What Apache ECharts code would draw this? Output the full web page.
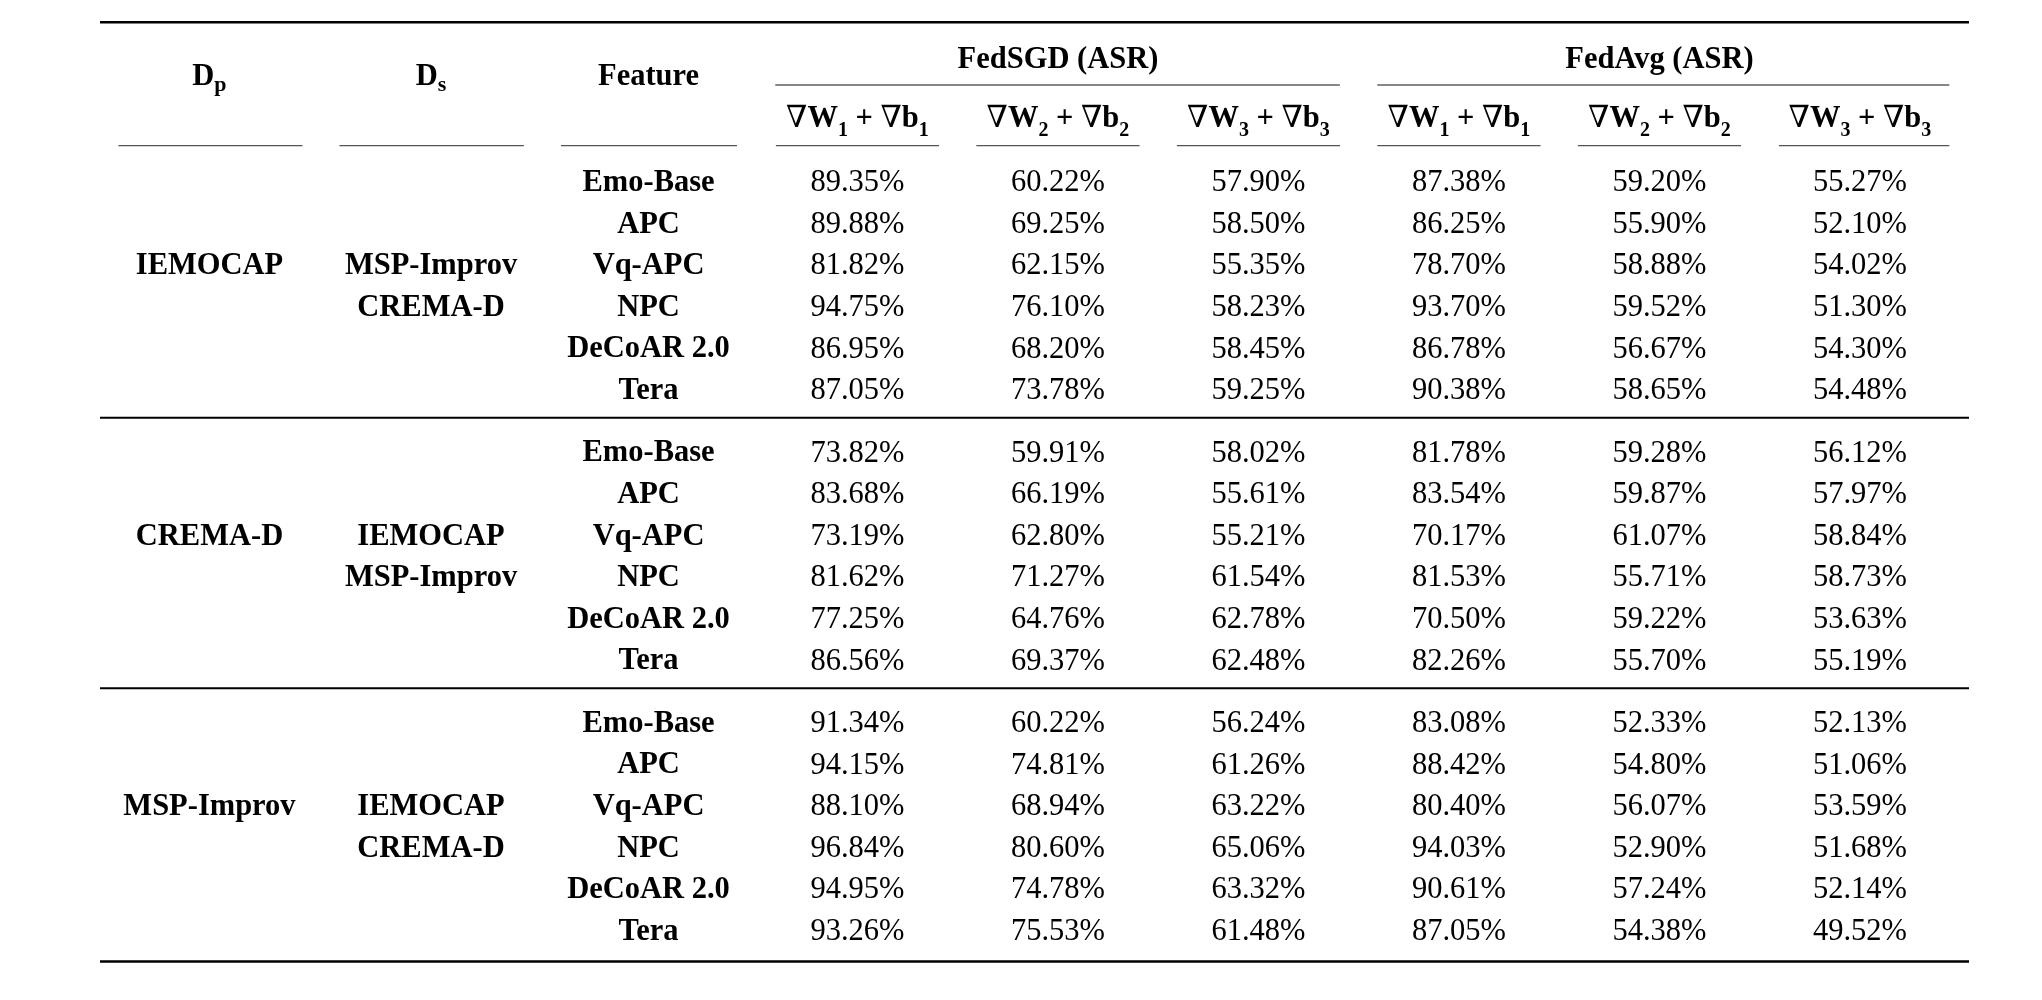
<!DOCTYPE html>
<html>
<head>
<meta charset="utf-8">
<script src="https://cdn.jsdelivr.net/npm/echarts@6/dist/echarts.min.js"></script>
<style>html,body{margin:0;padding:0;background:#fff}#chart{width:2042px;height:1000px}</style>
</head>
<body>
<div id="chart"></div>
<script>
// ---------------- DATA ----------------
const primaryDatasets = ['IEMOCAP', 'CREMA-D', 'MSP-Improv'];
const secondaryDatasets = [['MSP-Improv', 'CREMA-D'], ['IEMOCAP', 'MSP-Improv'], ['IEMOCAP', 'CREMA-D']];
const features = ['Emo-Base', 'APC', 'Vq-APC', 'NPC', 'DeCoAR 2.0', 'Tera'];
const methods = ['FedSGD (ASR)', 'FedAvg (ASR)'];
const layerIndices = ['1', '2', '3'];
const headerLabels = ['D', 'D', 'Feature'];
const headerSubs = ['p', 's', ''];

// rows: features; columns: layer 1, 2, 3
const fedSGD_IEMOCAP = [[89.35, 60.22, 57.90], [89.88, 69.25, 58.50], [81.82, 62.15, 55.35], [94.75, 76.10, 58.23], [86.95, 68.20, 58.45], [87.05, 73.78, 59.25]];
const fedAvg_IEMOCAP = [[87.38, 59.20, 55.27], [86.25, 55.90, 52.10], [78.70, 58.88, 54.02], [93.70, 59.52, 51.30], [86.78, 56.67, 54.30], [90.38, 58.65, 54.48]];
const fedSGD_CREMAD = [[73.82, 59.91, 58.02], [83.68, 66.19, 55.61], [73.19, 62.80, 55.21], [81.62, 71.27, 61.54], [77.25, 64.76, 62.78], [86.56, 69.37, 62.48]];
const fedAvg_CREMAD = [[81.78, 59.28, 56.12], [83.54, 59.87, 57.97], [70.17, 61.07, 58.84], [81.53, 55.71, 58.73], [70.50, 59.22, 53.63], [82.26, 55.70, 55.19]];
const fedSGD_MSP = [[91.34, 60.22, 56.24], [94.15, 74.81, 61.26], [88.10, 68.94, 63.22], [96.84, 80.60, 65.06], [94.95, 74.78, 63.32], [93.26, 75.53, 61.48]];
const fedAvg_MSP = [[83.08, 52.33, 52.13], [88.42, 54.80, 51.06], [80.40, 56.07, 53.59], [94.03, 52.90, 51.68], [90.61, 57.24, 52.14], [87.05, 54.38, 49.52]];

const groupValues = [
  [fedSGD_IEMOCAP, fedAvg_IEMOCAP],
  [fedSGD_CREMAD, fedAvg_CREMAD],
  [fedSGD_MSP, fedAvg_MSP]
];

// ---------------- LAYOUT / STYLE ----------------
const FONT = "'Liberation Serif','DejaVu Serif',serif";
const SZ = 30.5;
const BOLD = 'bold ' + SZ + 'px ' + FONT;
const REG = SZ + 'px ' + FONT;

const L = {
  xMin: -3.778, xMax: 5.544, yMin: -3.834, yMax: 18.762,
  colX: [-3.232, -2.127, -1.042],
  headUnder: [[-3.686, -2.768], [-2.584, -1.664], [-1.479, -0.601]],
  colHalf: 0.407, lastColUnder: [4.596, 5.446],
  spanUnder: [[-0.41, 2.406], [2.593, 5.446]],
  yMethod: -2.92, yHead: -2.52, ySpanRule: -2.32, ySub: -1.51, ySubRule: -0.861,
  groupStep: 6.5, rowShift: 0.04, dpRow: 2, dsRows: [2, 3],
  ruleTop: -3.827, ruleBottom: 18.75, groupRuleOffset: -0.82
};

const richD = {
  m: {font: BOLD, lineHeight: 40},
  s: {font: 'bold 22px ' + FONT, lineHeight: 26, verticalAlign: 'bottom'}
};
const richNabla = {
  n: {font: SZ + 'px ' + FONT, lineHeight: 44},
  m: {font: BOLD, lineHeight: 44},
  s: {font: 'bold 20px ' + FONT, lineHeight: 21, verticalAlign: 'bottom'}
};

// ---------------- BUILD CELLS ----------------
const cells = [];
function addCell(x, y, text, font, rich) { cells.push({x: x, y: y, text: text, font: font, rich: rich}); }

headerLabels.forEach(function (h, i) {
  if (headerSubs[i]) addCell(L.colX[i], L.yHead, '{m|' + h + '}{s|' + headerSubs[i] + '}', BOLD, richD);
  else addCell(L.colX[i], L.yHead, h, BOLD);
});
methods.forEach(function (m, mi) {
  addCell(mi * 3 + 1, L.yMethod, m, BOLD);
  layerIndices.forEach(function (k, li) {
    addCell(mi * 3 + li, L.ySub, '{n|\u2207}{m|W}{s|' + k + '}{m| + }{n|\u2207}{m|b}{s|' + k + '}', BOLD, richNabla);
  });
});
primaryDatasets.forEach(function (dp, g) {
  const base = g * L.groupStep + L.rowShift;
  addCell(L.colX[0], base + L.dpRow, dp, BOLD);
  secondaryDatasets[g].forEach(function (ds, j) { addCell(L.colX[1], base + L.dsRows[j], ds, BOLD); });
  features.forEach(function (f, r) {
    addCell(L.colX[2], base + r, f, BOLD);
    groupValues[g].forEach(function (vals, mi) {
      vals[r].forEach(function (v, li) { addCell(mi * 3 + li, base + r, v.toFixed(2) + '%', REG); });
    });
  });
});

// ---------------- RULES ----------------
const rules = [];
rules.push([L.xMin, L.xMax, L.ruleTop, 2.6, '#000']);
rules.push([L.xMin, L.xMax, L.ruleBottom, 2.6, '#000']);
for (let g = 1; g < primaryDatasets.length; g++) rules.push([L.xMin, L.xMax, g * L.groupStep + L.groupRuleOffset, 2, '#000']);
L.spanUnder.forEach(function (s) { rules.push([s[0], s[1], L.ySpanRule, 1.2, '#111']); });
L.headUnder.forEach(function (s) { rules.push([s[0], s[1], L.ySubRule, 1.3, '#555']); });
for (let c = 0; c < methods.length * layerIndices.length; c++) {
  if (c === methods.length * layerIndices.length - 1) rules.push([L.lastColUnder[0], L.lastColUnder[1], L.ySubRule, 1.3, '#555']);
  else rules.push([c - L.colHalf, c + L.colHalf, L.ySubRule, 1.3, '#555']);
}

// ---------------- CHART ----------------
const chart = echarts.init(document.getElementById('chart'), null, {renderer: 'canvas'});
chart.setOption({
  backgroundColor: '#fff',
  animation: false,
  grid: {left: 100, right: 73, top: 22, bottom: 38, containLabel: false},
  xAxis: {type: 'value', min: L.xMin, max: L.xMax, show: false, splitLine: {show: false}},
  yAxis: {type: 'value', min: L.yMin, max: L.yMax, inverse: true, show: false, splitLine: {show: false}},
  tooltip: {show: false},
  series: [
    {
      type: 'custom', silent: true, clip: false,
      encode: {x: 0, y: 2},
      data: rules.map(function (r) { return [r[0], r[1], r[2]]; }),
      renderItem: function (params, api) {
        const r = rules[params.dataIndex];
        const p1 = api.coord([api.value(0), api.value(2)]);
        const p2 = api.coord([api.value(1), api.value(2)]);
        return {type: 'line', shape: {x1: p1[0], y1: p1[1], x2: p2[0], y2: p2[1]}, style: {stroke: r[4], lineWidth: r[3]}};
      }
    },
    {
      type: 'custom', silent: true, clip: false,
      encode: {x: 0, y: 1},
      data: cells.map(function (c) { return [c.x, c.y]; }),
      renderItem: function (params, api) {
        const c = cells[params.dataIndex];
        const p = api.coord([api.value(0), api.value(1)]);
        const style = {text: c.text, font: c.font, fill: '#000', align: 'center', verticalAlign: 'middle'};
        if (c.rich) style.rich = c.rich;
        return {type: 'text', x: p[0], y: p[1], style: style};
      }
    }
  ]
});
</script>
</body>
</html>
